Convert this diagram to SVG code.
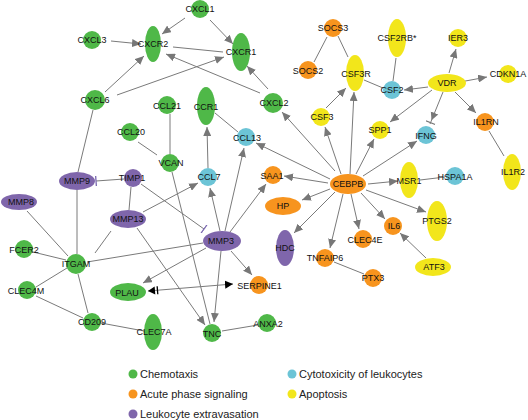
<svg xmlns="http://www.w3.org/2000/svg" width="528" height="420" viewBox="0 0 528 420">
<style>
.e{stroke:#7a7a7a;stroke-width:1;fill:none}
.ar{marker-end:url(#a)}
.g{fill:#4fb848}.o{fill:#f7941e}.p{fill:#7f66ab}.c{fill:#6cc4d6}.y{fill:#f2e61b}
text{font-family:"Liberation Sans",Arial,sans-serif;font-size:9px;fill:#111;text-anchor:middle;dominant-baseline:central}
.lg{font-size:11px;text-anchor:start;fill:#222}
</style>
<defs>
<marker id="a" markerWidth="9" markerHeight="8" refX="9" refY="4" orient="auto" markerUnits="userSpaceOnUse"><path d="M0,0 L9,4 L0,8 z" fill="#777"/></marker>
<marker id="t" markerWidth="2" markerHeight="10" refX="1" refY="5" orient="auto" markerUnits="userSpaceOnUse"><path d="M1,0 V10" stroke="#7a68b0" stroke-width="1.3"/></marker>
<marker id="ab" markerWidth="12" markerHeight="10" refX="12" refY="5" orient="auto" markerUnits="userSpaceOnUse"><path d="M0,1 L8,5 L0,9 z" fill="#777"/><path d="M10.5,0 V10" stroke="#777" stroke-width="1.2"/></marker>
<marker id="bs" markerWidth="11" markerHeight="10" refX="0" refY="5" orient="auto" markerUnits="userSpaceOnUse"><path d="M0,5 L7,1 L7,9 z" fill="#000"/><path d="M9.5,1 V9" stroke="#000" stroke-width="1.3"/></marker>
<marker id="be" markerWidth="9" markerHeight="10" refX="8" refY="5" orient="auto" markerUnits="userSpaceOnUse"><path d="M0,1 L8,5 L0,9 z" fill="#000"/></marker>
</defs>
<g id="connectors">
<line class="e ar" x1="111" y1="41" x2="141" y2="44"/>
<line class="e ar" x1="185" y1="18" x2="162" y2="34"/>
<line class="e ar" x1="210" y1="20" x2="233" y2="44"/>
<line class="e" x1="173" y1="47" x2="223" y2="52"/>
<line class="e ar" x1="105" y1="92" x2="144" y2="56"/>
<line class="e ar" x1="117" y1="95" x2="224" y2="57"/>
<line class="e ar" x1="260" y1="93" x2="166" y2="54"/>
<line class="e ar" x1="268" y1="89" x2="247" y2="66"/>
<line class="e" x1="327" y1="37" x2="314" y2="62"/>
<line class="e" x1="338" y1="36" x2="348" y2="57"/>
<line class="e ar" x1="326" y1="108" x2="346" y2="88"/>
<line class="e" x1="396" y1="58" x2="393" y2="81"/>
<line class="e" x1="364" y1="80" x2="383" y2="88"/>
<line class="e ar" x1="428" y1="87" x2="404" y2="90"/>
<line class="e ar" x1="449" y1="73" x2="456" y2="49"/>
<line class="e ar" x1="460" y1="82" x2="487" y2="77"/>
<line class="e ar" x1="455" y1="92" x2="476" y2="113"/>
<line class="e ar" x1="432" y1="90" x2="390" y2="122"/>
<line class="e" x1="443" y1="92" x2="430" y2="124" marker-end="url(#ab)"/>
<line class="e" x1="489" y1="131" x2="504" y2="156"/>
<line class="e ar" x1="335" y1="171" x2="282" y2="112"/>
<line class="e ar" x1="341" y1="174" x2="325" y2="127"/>
<line class="e ar" x1="350" y1="174" x2="354" y2="92"/>
<line class="e ar" x1="356" y1="174" x2="374" y2="139"/>
<line class="e ar" x1="363" y1="176" x2="417" y2="141"/>
<line class="e ar" x1="368" y1="184" x2="398" y2="181"/>
<line class="e ar" x1="366" y1="190" x2="426" y2="212"/>
<line class="e ar" x1="361" y1="193" x2="385" y2="219"/>
<line class="e ar" x1="351" y1="194" x2="359" y2="229"/>
<line class="e ar" x1="343" y1="194" x2="330" y2="248"/>
<line class="e ar" x1="335" y1="192" x2="294" y2="233"/>
<line class="e ar" x1="330" y1="189" x2="302" y2="200"/>
<line class="e ar" x1="328" y1="183" x2="284" y2="176"/>
<line class="e ar" x1="330" y1="179" x2="256" y2="143"/>
<line class="e ar" x1="426" y1="258" x2="400" y2="233"/>
<line class="e" x1="334" y1="262" x2="364" y2="274"/>
<line class="e" x1="420" y1="180" x2="445" y2="177"/>
<line class="e ar" x1="220" y1="231" x2="210" y2="188"/>
<line class="e ar" x1="225" y1="231" x2="244" y2="148"/>
<line class="e ar" x1="230" y1="232" x2="266" y2="184"/>
<line class="e ar" x1="231" y1="251" x2="252" y2="275"/>
<line class="e ar" x1="206" y1="248" x2="143" y2="283"/>
<line class="e ar" x1="221" y1="251" x2="214" y2="322"/>
<line class="e ar" x1="143" y1="212" x2="198" y2="183"/>
<line class="e ar" x1="137" y1="228" x2="205" y2="325"/>
<line class="e" x1="172" y1="172" x2="210" y2="324"/>
<line class="e" x1="141" y1="184" x2="204" y2="229" marker-end="url(#t)"/>
<line class="e" x1="124" y1="179" x2="96" y2="181" marker-end="url(#t)"/>
<line class="e" x1="131" y1="187" x2="129" y2="210"/>
<line class="e" x1="87" y1="262" x2="203" y2="243"/>
<line class="e" x1="77" y1="254" x2="77" y2="190"/>
<line class="e" x1="68" y1="256" x2="27" y2="211"/>
<line class="e" x1="66" y1="260" x2="33" y2="252"/>
<line class="e" x1="95" y1="253" x2="111" y2="231"/>
<line class="e" x1="67" y1="268" x2="36" y2="287"/>
<line class="e" x1="78" y1="274" x2="88" y2="313"/>
<line class="e" x1="36" y1="296" x2="83" y2="318"/>
<line class="e" x1="101" y1="323" x2="144" y2="331"/>
<line class="e" x1="148" y1="291" x2="233" y2="284" marker-start="url(#bs)" marker-end="url(#be)"/>
<line class="e" x1="222" y1="331" x2="258" y2="325"/>
<line class="e" x1="93" y1="110" x2="78" y2="172"/>
<line class="e" x1="170" y1="114" x2="170" y2="154"/>
<line class="e" x1="138" y1="142" x2="157" y2="155"/>
<line class="e ar" x1="208" y1="168" x2="207" y2="127"/>
<line class="e" x1="215" y1="113" x2="238" y2="132"/>
</g>
<g id="CXCL1"><circle class="g" cx="200" cy="9" r="9"/><text x="200" y="9">CXCL1</text></g>
<g id="CXCL3"><circle class="g" cx="92" cy="40" r="9"/><text x="92" y="40">CXCL3</text></g>
<g id="CXCR2"><ellipse class="g" cx="153" cy="44" rx="8" ry="18"/><text x="153" y="44">CXCR2</text></g>
<g id="CXCR1"><ellipse class="g" cx="241" cy="52" rx="9" ry="19"/><text x="241" y="52">CXCR1</text></g>
<g id="CXCL6"><circle class="g" cx="95" cy="100" r="10"/><text x="95" y="100">CXCL6</text></g>
<g id="CCL21"><circle class="g" cx="167" cy="105" r="9"/><text x="167" y="106">CCL21</text></g>
<g id="CCL20"><circle class="g" cx="130" cy="132" r="9"/><text x="131" y="132">CCL20</text></g>
<g id="CXCL2"><circle class="g" cx="273" cy="103" r="10"/><text x="274" y="103">CXCL2</text></g>
<g id="CCR1"><ellipse class="g" cx="206" cy="106" rx="9" ry="19"/><text x="206" y="107">CCR1</text></g>
<g id="CCL13"><circle class="c" cx="246" cy="137" r="9"/><text x="247" y="138">CCL13</text></g>
<g id="SOCS3"><circle class="o" cx="333" cy="28" r="9"/><text x="333" y="28">SOCS3</text></g>
<g id="SOCS2"><circle class="o" cx="308" cy="70" r="9"/><text x="308" y="71">SOCS2</text></g>
<g id="CSF3R"><ellipse class="y" cx="355" cy="73" rx="9" ry="18"/><text x="356" y="74">CSF3R</text></g>
<g id="CSF2RB"><ellipse class="y" cx="397" cy="38" rx="9" ry="19"/><text x="397" y="38">CSF2RB*</text></g>
<g id="CSF2"><circle class="c" cx="392" cy="90" r="9"/><text x="392" y="90">CSF2</text></g>
<g id="IER3"><circle class="y" cx="458" cy="38" r="9"/><text x="458" y="38">IER3</text></g>
<g id="VDR"><ellipse class="y" cx="447" cy="83" rx="19" ry="9"/><text x="447" y="83">VDR</text></g>
<g id="CDKN1A"><circle class="y" cx="508" cy="74" r="9"/><text x="508" y="74">CDKN1A</text></g>
<g id="IL1RN"><circle class="o" cx="485" cy="122" r="9"/><text x="486" y="122">IL1RN</text></g>
<g id="SPP1"><circle class="y" cx="380" cy="130" r="9"/><text x="380" y="130">SPP1</text></g>
<g id="IFNG"><circle class="c" cx="426" cy="135" r="9"/><text x="426" y="136">IFNG</text></g>
<g id="CSF3"><circle class="y" cx="321" cy="117" r="9"/><text x="322" y="117">CSF3</text></g>
<g id="CEBPB"><ellipse class="o" cx="348" cy="184" rx="18" ry="10"/><text x="348" y="184">CEBPB</text></g>
<g id="SAA1"><circle class="o" cx="273" cy="175" r="9"/><text x="272" y="176">SAA1</text></g>
<g id="HP"><ellipse class="o" cx="283" cy="206" rx="18" ry="9"/><text x="283" y="206">HP</text></g>
<g id="HDC"><ellipse class="p" cx="285" cy="248" rx="9" ry="18"/><text x="285" y="248">HDC</text></g>
<g id="TNFAIP6"><circle class="o" cx="325" cy="258" r="9"/><text x="325" y="258">TNFAIP6</text></g>
<g id="MSR1"><ellipse class="y" cx="409" cy="180" rx="9" ry="18"/><text x="409" y="181">MSR1</text></g>
<g id="HSPA1A"><circle class="c" cx="455" cy="176" r="9"/><text x="455" y="177">HSPA1A</text></g>
<g id="IL1R2"><ellipse class="y" cx="512" cy="172" rx="9" ry="18"/><text x="513" y="172">IL1R2</text></g>
<g id="PTGS2"><ellipse class="y" cx="437" cy="221" rx="10" ry="20"/><text x="437" y="221">PTGS2</text></g>
<g id="IL6"><circle class="o" cx="393" cy="226" r="9"/><text x="394" y="226">IL6</text></g>
<g id="CLEC4E"><circle class="o" cx="363" cy="239" r="9"/><text x="365" y="240">CLEC4E</text></g>
<g id="ATF3"><ellipse class="y" cx="433" cy="267" rx="18" ry="9"/><text x="434" y="267">ATF3</text></g>
<g id="PTX3"><circle class="o" cx="373" cy="278" r="9"/><text x="373" y="278">PTX3</text></g>
<g id="SERPINE1"><circle class="o" cx="259" cy="285" r="9"/><text x="259.5" y="286">SERPINE1</text></g>
<g id="ANXA2"><circle class="g" cx="267" cy="323" r="9"/><text x="268" y="324">ANXA2</text></g>
<g id="TNC"><circle class="g" cx="212" cy="333" r="9"/><text x="212" y="334">TNC</text></g>
<g id="CLEC7A"><ellipse class="g" cx="153" cy="332" rx="9" ry="18"/><text x="154" y="332">CLEC7A</text></g>
<g id="CD209"><circle class="g" cx="92" cy="322" r="9"/><text x="92" y="322">CD209</text></g>
<g id="CLEC4M"><circle class="g" cx="27" cy="290" r="9"/><text x="26" y="291">CLEC4M</text></g>
<g id="PLAU"><ellipse class="g" cx="128" cy="292" rx="18" ry="9"/><text x="127" y="293">PLAU</text></g>
<g id="ITGAM"><circle class="g" cx="76" cy="264" r="10"/><text x="76" y="264">ITGAM</text></g>
<g id="FCER2"><circle class="g" cx="24" cy="249" r="9"/><text x="24" y="250">FCER2</text></g>
<g id="MMP8"><ellipse class="p" cx="19" cy="202" rx="18" ry="8"/><text x="21" y="202">MMP8</text></g>
<g id="MMP9"><ellipse class="p" cx="77" cy="181" rx="18" ry="9"/><text x="77" y="181">MMP9</text></g>
<g id="TIMP1"><circle class="p" cx="133" cy="178" r="9"/><text x="132" y="178">TIMP1</text></g>
<g id="MMP13"><ellipse class="p" cx="128" cy="219" rx="18" ry="9"/><text x="128" y="219">MMP13</text></g>
<g id="VCAN"><circle class="g" cx="170" cy="163" r="9"/><text x="171" y="163">VCAN</text></g>
<g id="CCL7"><circle class="c" cx="208" cy="177" r="9"/><text x="209" y="177">CCL7</text></g>
<g id="MMP3"><ellipse class="p" cx="222" cy="241" rx="19" ry="10"/><text x="221" y="241">MMP3</text></g>
<g id="legend">
<circle class="g" cx="133" cy="374" r="4.5"/><text class="lg" x="140" y="374">Chemotaxis</text>
<circle class="o" cx="133" cy="394" r="4.5"/><text class="lg" x="140" y="394">Acute phase signaling</text>
<circle class="p" cx="133" cy="414" r="4.5"/><text class="lg" x="140" y="414">Leukocyte extravasation</text>
<circle class="c" cx="292" cy="374" r="4.5"/><text class="lg" x="299" y="374">Cytotoxicity of leukocytes</text>
<circle class="y" cx="292" cy="394" r="4.5"/><text class="lg" x="299" y="394">Apoptosis</text>
</g>
</svg>
